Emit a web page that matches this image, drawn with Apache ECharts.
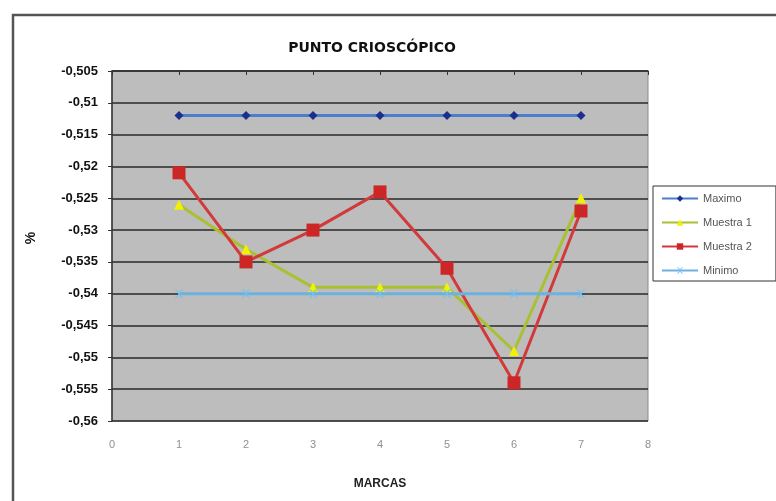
<!DOCTYPE html>
<html>
<head>
<meta charset="utf-8">
<script src="https://cdn.jsdelivr.net/npm/echarts@6/dist/echarts.min.js"></script>
<style>
  html, body { margin: 0; padding: 0; background: #ffffff; }
  #chart { width: 776px; height: 501px; }
</style>
</head>
<body>
<div id="chart"></div>
<script>
// Marcas (x positions) and series values
const marcas = [1, 2, 3, 4, 5, 6, 7];
const maximo = [-0.512, -0.512, -0.512, -0.512, -0.512, -0.512, -0.512];
const muestra1 = [-0.526, -0.533, -0.539, -0.539, -0.539, -0.549, -0.525];
const muestra2 = [-0.521, -0.535, -0.530, -0.524, -0.536, -0.554, -0.527];
const minimo = [-0.540, -0.540, -0.540, -0.540, -0.540, -0.540, -0.540];

const pairs = (vals) => marcas.map((m, i) => [m, vals[i]]);

// Decimal comma formatting for the value axis
const fmtComma = (v) => {
  const r = Math.round(v * 1000) / 1000;
  return String(r).replace('.', ',');
};

const chart = echarts.init(document.getElementById('chart'), null, { renderer: 'canvas' });

const crossSymbol = 'path://M0,0L2,0L5,3L8,0L10,0L6,4L6,6L10,10L8,10L5,7L2,10L0,10L4,6L4,4Z';

chart.setOption({
  animation: false,
  backgroundColor: '#ffffff',
  textStyle: { fontFamily: 'Liberation Sans, Arial, sans-serif' },
  title: {
    text: 'PUNTO CRIOSCÓPICO',
    left: 367,
    top: 36,
    textAlign: 'center',
    textStyle: {
      fontFamily: 'DejaVu Sans, sans-serif',
      fontWeight: 900,
      fontSize: 14,
      color: '#111'
    }
  },
  graphic: [
    {
      type: 'rect',
      shape: { x: 13, y: 15, width: 900, height: 700 },
      style: { fill: 'none', stroke: '#555', lineWidth: 2.5 },
      silent: true
    },
    {
      type: 'text',
      x: 31,
      y: 238,
      rotation: Math.PI / 2,
      style: {
        text: '%',
        fontSize: 14,
        fontWeight: 'bold',
        fill: '#111',
        align: 'center',
        verticalAlign: 'middle',
        fontFamily: 'Liberation Sans, Arial, sans-serif'
      }
    }
  ],
  legend: {
    orient: 'vertical',
    left: 653,
    top: 186,
    width: 122,
    padding: [7, 24, 5, 8],
    itemGap: 13,
    itemWidth: 36,
    itemHeight: 8,
    borderColor: '#333',
    borderWidth: 1,
    backgroundColor: '#fff',
    textStyle: { fontSize: 11, color: '#555' },
    data: ['Maximo', 'Muestra 1', 'Muestra 2', 'Minimo']
  },
  grid: {
    left: 112,
    right: 128,
    top: 71,
    bottom: 80,
    show: true,
    backgroundColor: '#bdbdbd',
    borderColor: '#8a8a8a',
    borderWidth: 1
  },
  xAxis: [
    {
      type: 'value',
      min: 0,
      max: 8,
      interval: 1,
      position: 'bottom',
      name: 'MARCAS',
      nameLocation: 'middle',
      nameGap: 57,
      nameTextStyle: { fontWeight: 'bold', fontSize: 12, color: '#222' },
      axisLine: { show: false },
      axisTick: { show: false },
      splitLine: { show: false },
      axisLabel: { margin: 18, fontSize: 11, color: '#909090' }
    },
    {
      type: 'value',
      min: 0,
      max: 8,
      interval: 1,
      position: 'top',
      axisLine: { show: true, onZero: false, lineStyle: { color: '#333', width: 1.5 } },
      axisTick: { show: true, inside: true, length: 4, lineStyle: { color: '#333' } },
      axisLabel: { show: false },
      splitLine: { show: false }
    }
  ],
  yAxis: {
    type: 'value',
    min: -0.56,
    max: -0.505,
    interval: 0.005,
    axisLine: { show: true, lineStyle: { color: '#333', width: 1.5 } },
    axisTick: { show: true, length: 4, lineStyle: { color: '#333' } },
    splitLine: { show: true, lineStyle: { color: '#2a2a2a', width: 1.5 } },
    axisLabel: {
      margin: 14,
      fontSize: 13,
      fontWeight: 'bold',
      color: '#111',
      formatter: fmtComma
    }
  },
  series: [
    {
      name: 'Maximo',
      type: 'line',
      data: pairs(maximo),
      symbol: 'diamond',
      symbolSize: 9,
      color: '#1c2f8c',
      lineStyle: { color: '#4a7fd0', width: 3 },
      itemStyle: { color: '#1c2f8c' },
      z: 2
    },
    {
      name: 'Muestra 1',
      type: 'line',
      data: pairs(muestra1),
      symbol: 'triangle',
      symbolSize: 10,
      color: '#e8ee20',
      lineStyle: { color: '#a9c030', width: 3 },
      itemStyle: { color: '#f2f200' },
      z: 3
    },
    {
      name: 'Muestra 2',
      type: 'line',
      data: pairs(muestra2),
      symbol: 'rect',
      symbolSize: 13,
      color: '#cc2a2a',
      lineStyle: { color: '#d23a3a', width: 3 },
      itemStyle: { color: '#cc2626' },
      z: 4
    },
    {
      name: 'Minimo',
      type: 'line',
      data: pairs(minimo),
      symbol: crossSymbol,
      symbolSize: 9,
      color: '#6cb2e0',
      lineStyle: { color: '#6cb2e0', width: 3 },
      itemStyle: { color: '#7cc0ea' },
      z: 5
    }
  ]
});
</script>
</body>
</html>
